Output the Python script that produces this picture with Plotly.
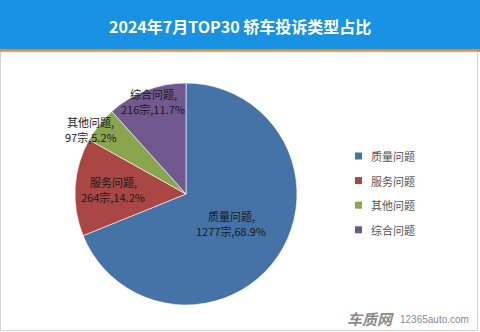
import math
import plotly.graph_objects as go

categories = ["质量问题", "服务问题", "其他问题", "综合问题"]
counts = [1277, 264, 97, 216]
colors = ["#4572A7", "#AA4643", "#89A54E", "#71588F"]
title_text = "2024年7月TOP30 轿车投诉类型占比"

W, H = 480, 332
CX, CY, R = 186, 194, 111  # pie centre / radius in px

FONT = "Noto Sans CJK SC, Microsoft YaHei, sans-serif"

fig = go.Figure(go.Pie(
    labels=categories,
    values=counts,
    sort=False,
    direction="clockwise",
    rotation=0,
    marker=dict(colors=colors, line=dict(color="white", width=0.6)),
    textinfo="none",
    hoverinfo="label+value+percent",
    showlegend=False,
    domain=dict(x=[(CX - R) / W, (CX + R) / W], y=[1 - (CY + R) / H, 1 - (CY - R) / H]),
))

shapes = []
annotations = []

# header band and frame
shapes.append(dict(type="rect", xref="paper", yref="paper", x0=0, x1=1, y0=1 - 49 / H, y1=1,
                   fillcolor="#1893E3", line=dict(width=0), layer="below"))
shapes.append(dict(type="rect", xref="paper", yref="paper", x0=0, x1=1, y0=1 - 52 / H, y1=1 - 49 / H,
                   fillcolor="#F5891F", line=dict(width=0), layer="below"))
shapes.append(dict(type="rect", xref="paper", yref="paper", x0=0.5 / W, x1=1 - 2.5 / W,
                   y0=1.5 / H, y1=1 - 52 / H,
                   fillcolor="rgba(0,0,0,0)", line=dict(color="#D4D4D4", width=1), layer="below"))

annotations.append(dict(text="<b>" + title_text + "</b>", x=0.5, y=1 - 26 / H, xref="paper", yref="paper",
                        showarrow=False, xanchor="center", yanchor="middle",
                        font=dict(family=FONT, size=16, color="white")))

# slice labels, placed along each slice's mid angle (two lines each)
total = sum(counts)
label_rf = [0.5, 0.685, 1.03, 0.88]
label_shift = [(-1, 2), (3, 0), (-6, -7), (2, 1)]
LINE_GAP = 15
cum = 0
for i, (cat, v) in enumerate(zip(categories, counts)):
    mid = (cum + v / 2) / total * 2 * math.pi
    cum += v
    r = label_rf[i] * R
    px = CX + r * math.sin(mid) + label_shift[i][0]
    py = CY - r * math.cos(mid) - label_shift[i][1]
    pct = v / total * 100
    for j, line in enumerate([f"{cat},", f"{v}宗,{pct:.1f}%"]):
        ly = py + (j - 0.5) * LINE_GAP
        annotations.append(dict(text=line, x=px / W, y=1 - ly / H,
                                xref="paper", yref="paper", showarrow=False,
                                xanchor="center", yanchor="middle",
                                font=dict(family=FONT, size=11, color="#1a1a1a")))

# legend
for i, (cat, c) in enumerate(zip(categories, colors)):
    yy = 156 + i * 24.6
    shapes.append(dict(type="rect", xref="paper", yref="paper",
                       x0=355 / W, x1=362 / W, y0=1 - (yy + 3.5) / H, y1=1 - (yy - 3.5) / H,
                       fillcolor=c, line=dict(width=0)))
    annotations.append(dict(text=cat, x=369 / W, y=1 - yy / H, xref="paper", yref="paper",
                            showarrow=False, xanchor="left", yanchor="middle",
                            font=dict(family=FONT, size=11, color="#555555")))

# watermark
annotations.append(dict(text="<b><i>车质网</i></b>", x=396 / W, y=1 - 318 / H, xref="paper", yref="paper",
                        showarrow=False, xanchor="right", yanchor="middle",
                        font=dict(family=FONT, size=15, color="#8a8a8a")))
annotations.append(dict(text="12365auto.com", x=398 / W, y=1 - 319 / H, xref="paper", yref="paper",
                        showarrow=False, xanchor="left", yanchor="middle",
                        font=dict(family="Liberation Sans, Arial, sans-serif", size=10, color="#8a8a8a")))

fig.update_layout(
    width=W, height=H,
    margin=dict(l=0, r=0, t=0, b=0),
    paper_bgcolor="white",
    plot_bgcolor="white",
    shapes=shapes,
    annotations=annotations,
    showlegend=False,
)

fig.write_html("out.html")
